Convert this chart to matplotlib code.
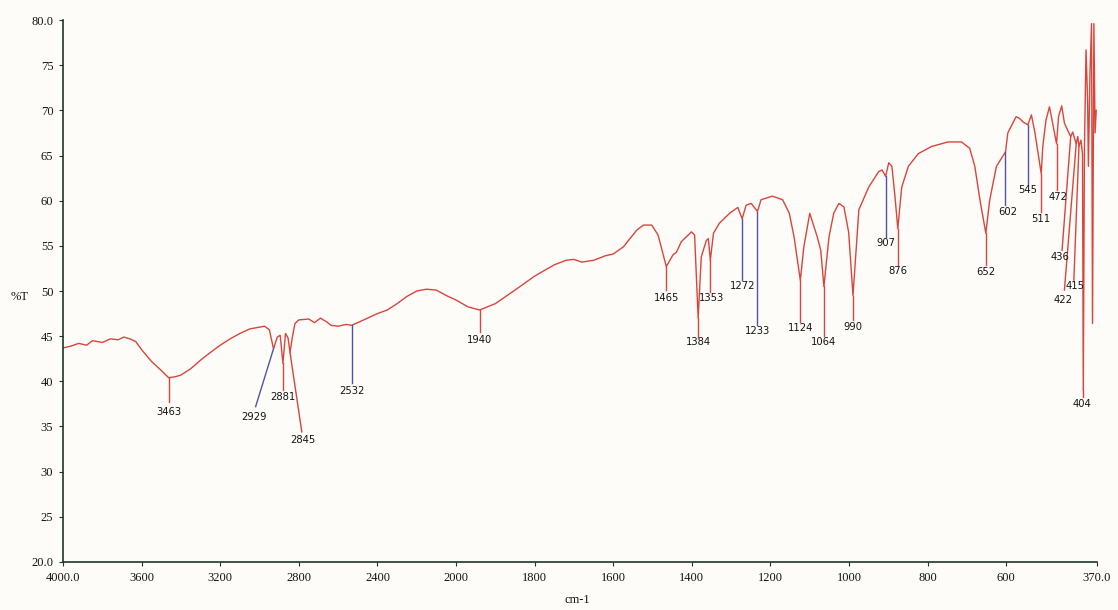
import numpy as np
import matplotlib
matplotlib.use("Agg")
import matplotlib.pyplot as plt
from matplotlib.ticker import FixedLocator

# spectrum: wavenumber (cm-1) and %T
wavenumber = [4000, 3960, 3920, 3880, 3850, 3800, 3760, 3720, 3690, 3660, 3630,
              3600, 3550, 3500, 3463, 3430, 3400, 3350, 3300, 3250, 3200, 3150,
              3100, 3050, 3000, 2975, 2950, 2929, 2910, 2895, 2881, 2868, 2855,
              2845, 2832, 2820, 2800, 2750, 2720, 2690, 2660, 2636, 2600, 2560,
              2532, 2490, 2450, 2400, 2350, 2300, 2250, 2200, 2150, 2100, 2050,
              2000, 1970, 1940, 1900, 1850, 1800, 1750, 1720, 1700, 1680, 1650,
              1620, 1600, 1574, 1540, 1523, 1502, 1486, 1465, 1448, 1439, 1427,
              1401, 1393, 1384, 1376, 1363, 1358, 1353, 1345, 1330, 1304, 1283,
              1272, 1262, 1249, 1233, 1224, 1195, 1169, 1152, 1140, 1124, 1115,
              1100, 1092, 1081, 1072, 1064, 1051, 1039, 1026, 1013, 1001, 990,
              975, 950, 925, 916, 907, 899, 891, 883, 876, 866, 849, 824, 790,
              748, 714, 693, 680, 667, 652, 642, 625, 602, 596, 583, 575, 566,
              557, 545, 536, 527, 511, 507, 499, 490, 482, 472, 467, 459, 452,
              444, 436, 431, 422, 418, 415, 410, 406, 404, 401, 399, 397, 393,
              391, 387, 383, 380.5, 377, 374, 371]
transmittance = [43.7, 43.9, 44.2, 44.0, 44.5, 44.3, 44.7, 44.6, 44.9, 44.7, 44.4,
                 43.5, 42.2, 41.2, 40.4, 40.5, 40.7, 41.4, 42.35, 43.2, 44.0, 44.7,
                 45.3, 45.8, 46.0, 46.1, 45.7, 43.6, 44.9, 45.1, 42.0, 45.3, 44.8,
                 43.2, 45.0, 46.4, 46.8, 46.9, 46.5, 47.0, 46.6, 46.2, 46.1, 46.3,
                 46.2, 46.6, 47.0, 47.5, 47.9, 48.6, 49.4, 50.0, 50.2, 50.1, 49.5,
                 49.0, 48.25, 47.9, 48.6, 50.1, 51.65, 52.9, 53.4, 53.5, 53.2, 53.4,
                 53.9, 54.1, 54.9, 56.75, 57.3, 57.3, 56.2, 52.7, 54.0, 54.3, 55.45,
                 56.55, 56.2, 47.0, 53.8, 55.6, 55.8, 53.4, 56.4, 57.5, 58.6, 59.25,
                 58.0, 59.5, 59.7, 58.8, 60.1, 60.5, 60.1, 58.6, 56.0, 51.2, 54.9,
                 58.6, 57.5, 56.0, 54.5, 50.5, 56.0, 58.6, 59.7, 59.3, 56.5, 49.5,
                 59.0, 61.5, 63.2, 63.4, 62.7, 64.2, 63.8, 60.4, 56.9, 61.5, 63.8, 65.2, 66.0,
                 66.5, 66.5, 65.8, 63.8, 60.1, 56.4, 60.1, 63.8, 65.4, 67.5, 68.6, 69.3, 69.1,
                 68.7, 68.4, 69.5, 67.5, 63.0, 66.0, 68.9, 70.4, 68.6, 66.3, 69.3, 70.5, 68.6,
                 67.8, 67.1, 67.6, 66.3, 67.1, 66.0, 66.7, 65.2, 39.0, 66.0, 71.5, 76.7, 71.1,
                 63.8, 74.1, 79.6, 46.4, 79.6, 67.5, 70.0]

# picked peaks
peak_labels = ["3463", "2929", "2881", "2845", "2532", "1940", "1465", "1384",
               "1353", "1272", "1233", "1124", "1064", "990", "907", "876",
               "652", "602", "545", "511", "472", "436", "422", "415", "404"]
peak_wn = [3463, 2929, 2881, 2845, 2532, 1940, 1465, 1384, 1353, 1272, 1233,
           1124, 1064, 990, 907, 876, 652, 602, 545, 511, 472, 436, 422, 415, 404]

# where each marker line ends and its label sits (wn, %T)
line_end = [(3463, 37.7), (3020, 37.2), (2881, 39.0), (2785, 34.4), (2532, 39.8),
            (1940, 45.45), (1465, 50.1), (1384, 44.9), (1353, 49.9), (1272, 51.2),
            (1233, 46.2), (1124, 46.6), (1064, 45.0), (990, 46.8), (907, 56.0),
            (876, 52.9), (652, 52.9), (602, 59.5), (545, 61.8), (511, 58.7),
            (472, 61.2), (458, 54.5), (452, 50.1), (428, 51.2), (404, 38.3)]
text_pos = [(3463, 36.6), (3029, 36.0), (2881, 38.25), (2779, 33.5), (2532, 38.9),
            (1940, 44.6), (1465, 49.25), (1384, 44.3), (1349, 49.25), (1272, 50.6),
            (1233, 45.55), (1124, 45.9), (1064, 44.3), (990, 46.0), (907, 55.3),
            (876, 52.2), (652, 52.1), (596, 58.7), (545, 61.2), (511, 58.0),
            (468, 60.4), (462, 53.8), (455, 49.0), (425, 50.5), (408, 37.45)]
blue_peaks = ["2929", "2532", "1272", "1233", "907", "602", "545"]

xticks = [4000, 3600, 3200, 2800, 2400, 2000, 1800, 1600, 1400, 1200, 1000, 800, 600, 370]
xticklabels = ["4000.0", "3600", "3200", "2800", "2400", "2000", "1800", "1600",
               "1400", "1200", "1000", "800", "600", "370.0"]
yticks = [20, 25, 30, 35, 40, 45, 50, 55, 60, 65, 70, 75, 80]
yticklabels = ["20.0", "25", "30", "35", "40", "45", "50", "55", "60", "65", "70", "75", "80.0"]


# scale changes at 2000 cm-1 (below it, twice as stretched)
def fwd(x):
    x = np.asarray(x, dtype=float)
    return np.where(x >= 2000, x, 2 * x - 2000)


def inv(u):
    u = np.asarray(u, dtype=float)
    return np.where(u >= 2000, u, (u + 2000) / 2)


red = "#d8453c"
blue = "#5252a4"
ink = "#141414"

fig = plt.figure(figsize=(11.18, 6.10), dpi=100)
fig.patch.set_facecolor("#fdfcf8")
ax = fig.add_axes([0.0564, 0.0787, 0.9245, 0.8885])
ax.set_facecolor("#fdfcf8")

ax.set_xscale("function", functions=(fwd, inv))
ax.plot(wavenumber, transmittance, color=red, lw=1.0)
ax.set_xlim(4000, 370)
ax.set_ylim(20, 80)

T_at = dict(zip(wavenumber, transmittance))
for lab, wn, (ex, ey), (tx, ty) in zip(peak_labels, peak_wn, line_end, text_pos):
    col = blue if lab in blue_peaks else red
    ax.plot([wn, ex], [T_at[wn], ey], color=col, lw=1.0)
    ax.text(tx, ty, lab, ha="center", va="center", fontsize=8, color=ink,
            family="DejaVu Sans", fontstretch="condensed")

ax.xaxis.set_major_locator(FixedLocator(xticks))
ax.set_xticklabels(xticklabels)
ax.set_yticks(yticks)
ax.set_yticklabels(yticklabels)
ax.minorticks_off()
for lbl in ax.get_xticklabels() + ax.get_yticklabels():
    lbl.set_family("Liberation Serif")
    lbl.set_fontsize(9)
    lbl.set_color(ink)
ax.tick_params(direction="out", length=3, width=0.8, color="#1d3526", pad=4)

for s in ["top", "right"]:
    ax.spines[s].set_visible(False)
for s in ["left", "bottom"]:
    ax.spines[s].set_color("#1d3526")
    ax.spines[s].set_linewidth(1.2)

fig.text(20 / 1118, 1 - 297 / 610, "%T", ha="center", va="center",
         fontsize=9, family="Liberation Serif", color=ink)
fig.text(577 / 1118, 1 - 600 / 610, "cm-1", ha="center", va="center",
         fontsize=9, family="Liberation Serif", color=ink)

fig.savefig("out.png", dpi=100, facecolor=fig.get_facecolor())
